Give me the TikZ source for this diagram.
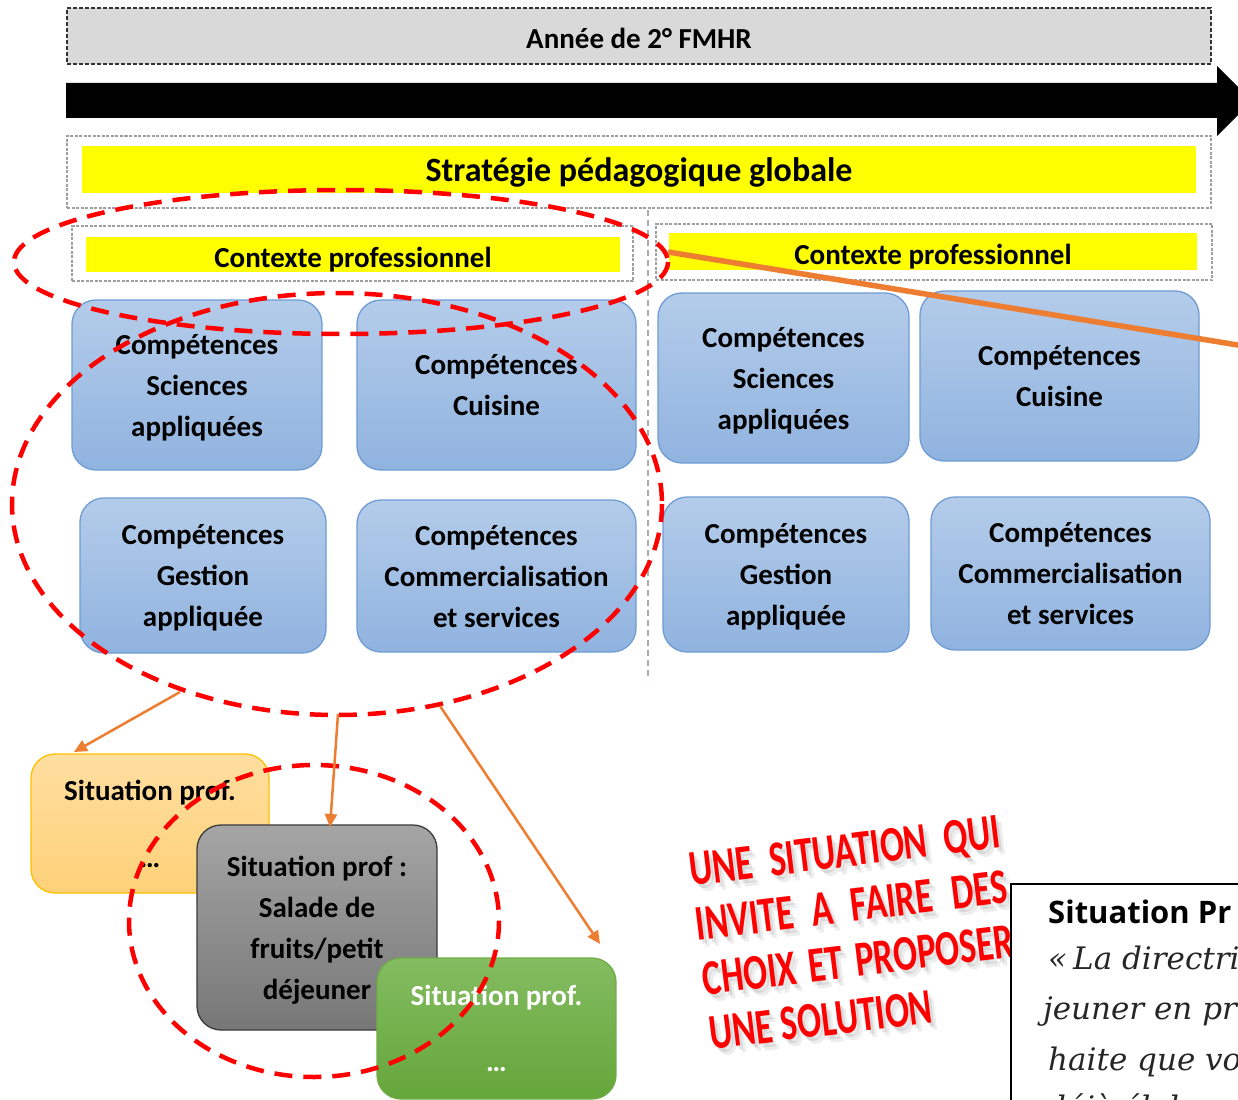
\documentclass[tikz,border=0pt]{standalone}
\usepackage{fontspec}
\setmainfont{Carlito}
\newfontfamily\osb{Open Sans}
\newfontfamily\djs{DejaVu Serif}
\usetikzlibrary{arrows.meta}
\definecolor{topgray}{HTML}{D9D9D9}
\definecolor{bluetop}{HTML}{B4CCEA}
\definecolor{bluebot}{HTML}{90B3DF}
\definecolor{bordblue}{HTML}{6E9CD4}
\definecolor{oran}{HTML}{ED7D31}
\definecolor{sAtop}{HTML}{FFDEA0}
\definecolor{sAbot}{HTML}{FDD178}
\definecolor{sAbord}{HTML}{FFC000}
\definecolor{sBtop}{HTML}{A5A5A5}
\definecolor{sBbot}{HTML}{777777}
\definecolor{sBbord}{HTML}{3A3A3A}
\definecolor{sCtop}{HTML}{84BC61}
\definecolor{sCbot}{HTML}{65A63A}
\definecolor{sCbord}{HTML}{70AD47}
\definecolor{pureyellow}{HTML}{FFFF00}
\definecolor{purered}{HTML}{FF0000}
\begin{document}
\begin{tikzpicture}[x=1pt,y=-1pt,
  dbox/.style={draw=gray!75, dash pattern=on 3pt off 1.5pt, line width=1.4pt, inner sep=0pt},
  ybox/.style={fill=pureyellow, inner sep=0pt, text height=25pt, text depth=0pt, font=\bfseries\fontsize{29}{35}\selectfont},
  comp/.style={draw=bordblue, line width=1.3pt, rounded corners=24pt, top color=bluetop, bottom color=bluebot, align=center, text depth=0pt, font=\bfseries\fontsize{29}{41}\selectfont, inner sep=0pt},
  sitbox/.style={rounded corners=24pt, line width=1.3pt, align=center, text depth=0pt, font=\bfseries\fontsize{29}{41}\selectfont, inner sep=0pt},
  redring/.style={draw=purered, line width=4.5pt, dash pattern=on 18pt off 11pt},
  orarrow/.style={draw=oran, line width=2.5pt, -{Triangle[length=13pt,width=12pt]}},
  slogan/.style={rotate=7, anchor=base west, inner sep=0pt, font=\bfseries\fontsize{50}{55}\selectfont},
  itl/.style={anchor=base west, inner sep=0pt, font=\djs\itshape\fontsize{31}{31}\selectfont, text=black!85}
]
\useasboundingbox (0,0) rectangle (1238,1099);
\clip (0,0) rectangle (1238,1099);
\fill[white] (0,0) rectangle (1238,1099);

% --- top band
\node[fill=topgray, draw=black!80, dash pattern=on 4pt off 2pt, line width=1.3pt, minimum width=1144, minimum height=56, inner sep=0pt, text height=25pt, text depth=0pt, font=\bfseries\fontsize{29}{35}\selectfont] (year) at (639,36) {Année de 2° FMHR};
\fill (66,83) -- (1217,83) -- (1217,66) -- (1252,101) -- (1217,136) -- (1217,118) -- (66,118) -- cycle;

\node[dbox, fill=white, minimum width=1144, minimum height=72] (stratframe) at (639,172) {};
\node[fill=pureyellow, inner sep=0pt, text depth=0pt, minimum width=1114, minimum height=47, font=\bfseries\fontsize{34}{40}\selectfont] (strat) at (639,169.5) {Stratégie pédagogique globale};

% divider
\draw[gray!65, dash pattern=on 6pt off 4pt, line width=1.3pt] (648,210) -- (648,680);

% contexte boxes
\node[dbox, fill=white, minimum width=561, minimum height=55] (ctxLframe) at (352.5,253.5) {};
\node[ybox, minimum width=534, minimum height=35] (ctxL) at (353,254.5) {Contexte professionnel};
\node[dbox, fill=white, minimum width=556, minimum height=56] (ctxRframe) at (934,252) {};
\node[ybox, minimum width=528, minimum height=37] (ctxR) at (933,251.5) {Contexte professionnel};

% competence boxes
\node[comp, minimum width=250, minimum height=170] (L1) at (197,385) {Compétences\\Sciences\\appliquées};
\node[comp, minimum width=279, minimum height=170] (L2) at (496.5,385) {Compétences\\Cuisine};
\node[comp, minimum width=246, minimum height=155] (L3) at (203,575.5) {Compétences\\Gestion\\appliquée};
\node[comp, minimum width=279, minimum height=152] (L4) at (496.5,576) {Compétences\\Commercialisation\\et services};
\node[comp, minimum width=251, minimum height=170] (R1) at (783.5,378) {Compétences\\Sciences\\appliquées};
\node[comp, minimum width=279, minimum height=170] (R2) at (1059.5,376) {Compétences\\Cuisine};
\node[comp, minimum width=246, minimum height=155] (R3) at (786,574.5) {Compétences\\Gestion\\appliquée};
\node[comp, minimum width=279, minimum height=153] (R4) at (1070.5,573.5) {Compétences\\Commercialisation\\et services};

% red rings around context and competences
\draw[redring] (341,262) ellipse [x radius=327, y radius=72];
\draw[redring] (337,504) ellipse [x radius=325, y radius=211];

% long orange line
\coordinate (o4s) at (668,252);
\coordinate (o4e) at (1250,347);
\draw[oran, line width=5.5pt] (o4s) -- (o4e);

% situation boxes
\node[sitbox, draw=sAbord, top color=sAtop, bottom color=sAbot, minimum width=238, minimum height=139] (S1) at (150,823.5) {Situation prof.\\[26pt]…};
\node[sitbox, draw=sBbord, top color=sBtop, bottom color=sBbot, minimum width=240, minimum height=205] (S2) at (317,927.5) {Situation prof :\\Salade de\\fruits/petit\\déjeuner};
\node[sitbox, draw=sCbord, top color=sCtop, bottom color=sCbot, minimum width=239, minimum height=141, text=white] (S3) at (496.5,1028.5) {Situation prof.\\[25pt]…};

\draw[redring] (314,921) ellipse [x radius=185, y radius=156];

% orange arrows
\coordinate (o1s) at (180,692);
\coordinate (o1e) at (74,752);
\coordinate (o2s) at (338,714);
\coordinate (o2e) at (330,827);
\coordinate (o3s) at (440,706);
\coordinate (o3e) at (600,944);
\draw[orarrow] (o1s) -- (o1e);
\draw[orarrow] (o2s) -- (o2e);
\draw[orarrow] (o3s) -- (o3e);

% slogan
\newcommand{\slogantext}{\scalebox{0.71}[1]{\begin{tabular}[t]{@{}l@{}}\makebox[441pt][s]{UNE SITUATION QUI}\\\makebox[441pt][s]{INVITE A FAIRE DES}\\\makebox[441pt][s]{CHOIX ET PROPOSER}\\UNE SOLUTION\end{tabular}}}
\node[slogan, text=black, opacity=0.07] at (697,893) {\slogantext};
\node[slogan, text=black, opacity=0.09] at (694,890) {\slogantext};
\node[slogan, text=purered] (slogan) at (691,886) {\slogantext};

% right bottom situation text box
\node[draw=black, line width=2pt, fill=white, anchor=north west, minimum width=300, minimum height=260, inner sep=0pt] (sitpro) at (1010,883) {};
\node[anchor=base west, inner sep=0pt, font=\osb\bfseries\fontsize{31}{31}\selectfont] (sptitle) at (1048,923) {Situation Pr};
\node[itl] (l1) at (1048,969) {«\hspace{6pt}La directri};
\node[itl] (l2) at (1043,1019.5) {jeuner en pr};
\node[itl] (l3) at (1048,1070) {haite que vo};
\node[itl] (l4) at (1046,1118) {déjà élabor};
\end{tikzpicture}
\end{document}
